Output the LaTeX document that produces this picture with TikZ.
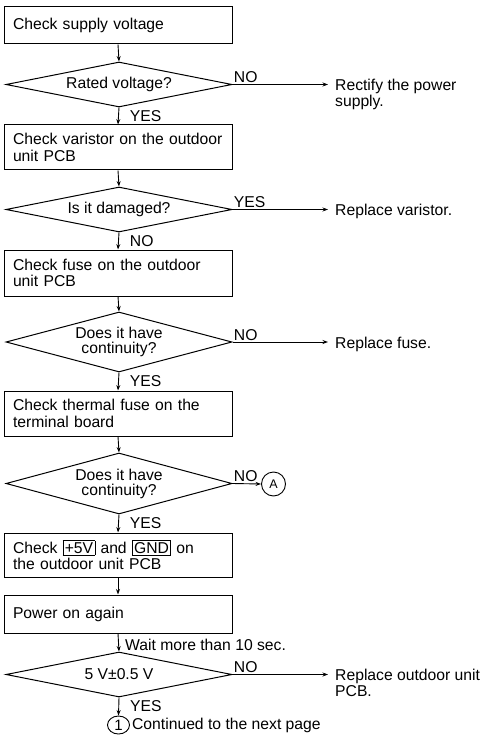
\documentclass[tikz,border=0pt]{standalone}
\usepackage{fontspec}
\setmainfont{Liberation Sans}
\usetikzlibrary{shapes.geometric,arrows.meta}

\newcommand{\framedterm}[1]{{\setlength{\fboxsep}{1.3pt}\setlength{\fboxrule}{0.8pt}\fbox{#1}}}

\tikzset{
  stepbox/.style={draw, line width=1pt, minimum width=228pt, text width=210pt,
    inner xsep=9pt, inner ysep=0pt, align=left},
  decision/.style={draw, shape=diamond, line width=1pt, inner sep=0pt,
    minimum width=226pt},
  dtext/.style={label={[align=center, font=\fontsize{15.7}{15}\selectfont]center:#1}},
  arr/.style={-{Stealth[length=5.5pt,width=4pt]}, line width=0.9pt},
  sidelbl/.style={inner sep=1pt, anchor=south west},
  downlbl/.style={inner sep=0pt, anchor=west, xshift=11pt},
  result/.style={anchor=north west, inner xsep=7pt, inner ysep=0pt, align=left},
  connector/.style={draw, line width=0.9pt, inner sep=0pt}
}

\begin{document}
\begin{tikzpicture}[x=1pt, y=-1pt, font=\fontsize{15.7}{16.5}\selectfont]
  \useasboundingbox (0,0) rectangle (486,735);

  % main column of checks and decisions
  \node[stepbox, minimum height=37pt] (b1) at (118,25.5) {Check supply voltage};
  \node[decision, minimum height=45pt, dtext={Rated voltage?}] (d1) at (119,84.5) {};
  \node[stepbox, minimum height=45pt] (b2) at (118,147.5) {Check varistor on the outdoor\\unit PCB};
  \node[decision, minimum height=45pt, dtext={Is it damaged?}] (d2) at (119,209.5) {};
  \node[stepbox, minimum height=46pt] (b3) at (118,273) {Check fuse on the outdoor\\unit PCB};
  \node[decision, minimum height=60pt, dtext={Does it have\\continuity?}] (d3) at (119,342) {};
  \node[stepbox, minimum height=45pt] (b4) at (118,413.5) {Check thermal fuse on the\\terminal board};
  \node[decision, minimum height=61pt, dtext={Does it have\\continuity?}] (d4) at (119,483.5) {};
  \node[stepbox, minimum height=44pt] (b5) at (118,555) {Check \framedterm{+5V} and \framedterm{GND} on\\the outdoor unit PCB};
  \node[stepbox, minimum height=38pt] (b6) at (118,614) {Power on again};
  \node[decision, minimum height=45pt, dtext={5 V±0.5 V}] (d5) at (119,674.5) {};

  % outcomes on the right
  \node[result] (r1) at (328,78.5) {Rectify the power\\supply.};
  \node[result] (r2) at (328,203.5) {Replace varistor.};
  \node[result] (r3) at (328,337) {Replace fuse.};
  \node[connector, circle, minimum size=24pt, font=\fontsize{12.5}{13}\selectfont] (cA) at (273.5,484) {A};
  \node[result] (r5) at (328,668.5) {Replace outdoor unit\\PCB.};

  % continuation mark
  \node[connector, ellipse, minimum width=22pt, minimum height=18pt, font=\fontsize{15}{15}\selectfont] (c1) at (118.5,725) {1};
  \node[anchor=west, inner xsep=2pt] (cont) at (c1.east) {Continued to the next page};

  % vertical flow
  \draw[arr] (b1.south) -- (d1.north);
  \draw[arr] (d1.south) -- node[downlbl]{YES} (b2.north);
  \draw[arr] (b2.south) -- (d2.north);
  \draw[arr] (d2.south) -- node[downlbl]{NO} (b3.north);
  \draw[arr] (b3.south) -- (d3.north);
  \draw[arr] (d3.south) -- node[downlbl]{YES} (b4.north);
  \draw[arr] (b4.south) -- (d4.north);
  \draw[arr] (d4.south) -- node[downlbl]{YES} (b5.north);
  \draw[arr] (b5.south) -- (b6.north);
  \draw[arr] (b6.south) -- node[downlbl, xshift=-5pt, pos=0.63]{Wait more than 10 sec.} (d5.north);
  \draw[arr] (d5.south) -- node[downlbl, pos=0.45]{YES} (c1.north);

  % side branches
  \draw[arr] (d1.east) -- node[sidelbl, pos=0]{NO} (d1.east -| r1.west);
  \draw[arr] (d2.east) -- node[sidelbl, pos=0]{YES} (d2.east -| r2.west);
  \draw[arr] (d3.east) -- node[sidelbl, pos=0]{NO} (d3.east -| r3.west);
  \draw[arr] (d4.east) -- node[sidelbl, pos=0]{NO} (cA.west);
  \draw[arr] (d5.east) -- node[sidelbl, pos=0]{NO} (d5.east -| r5.west);
\end{tikzpicture}
\end{document}
